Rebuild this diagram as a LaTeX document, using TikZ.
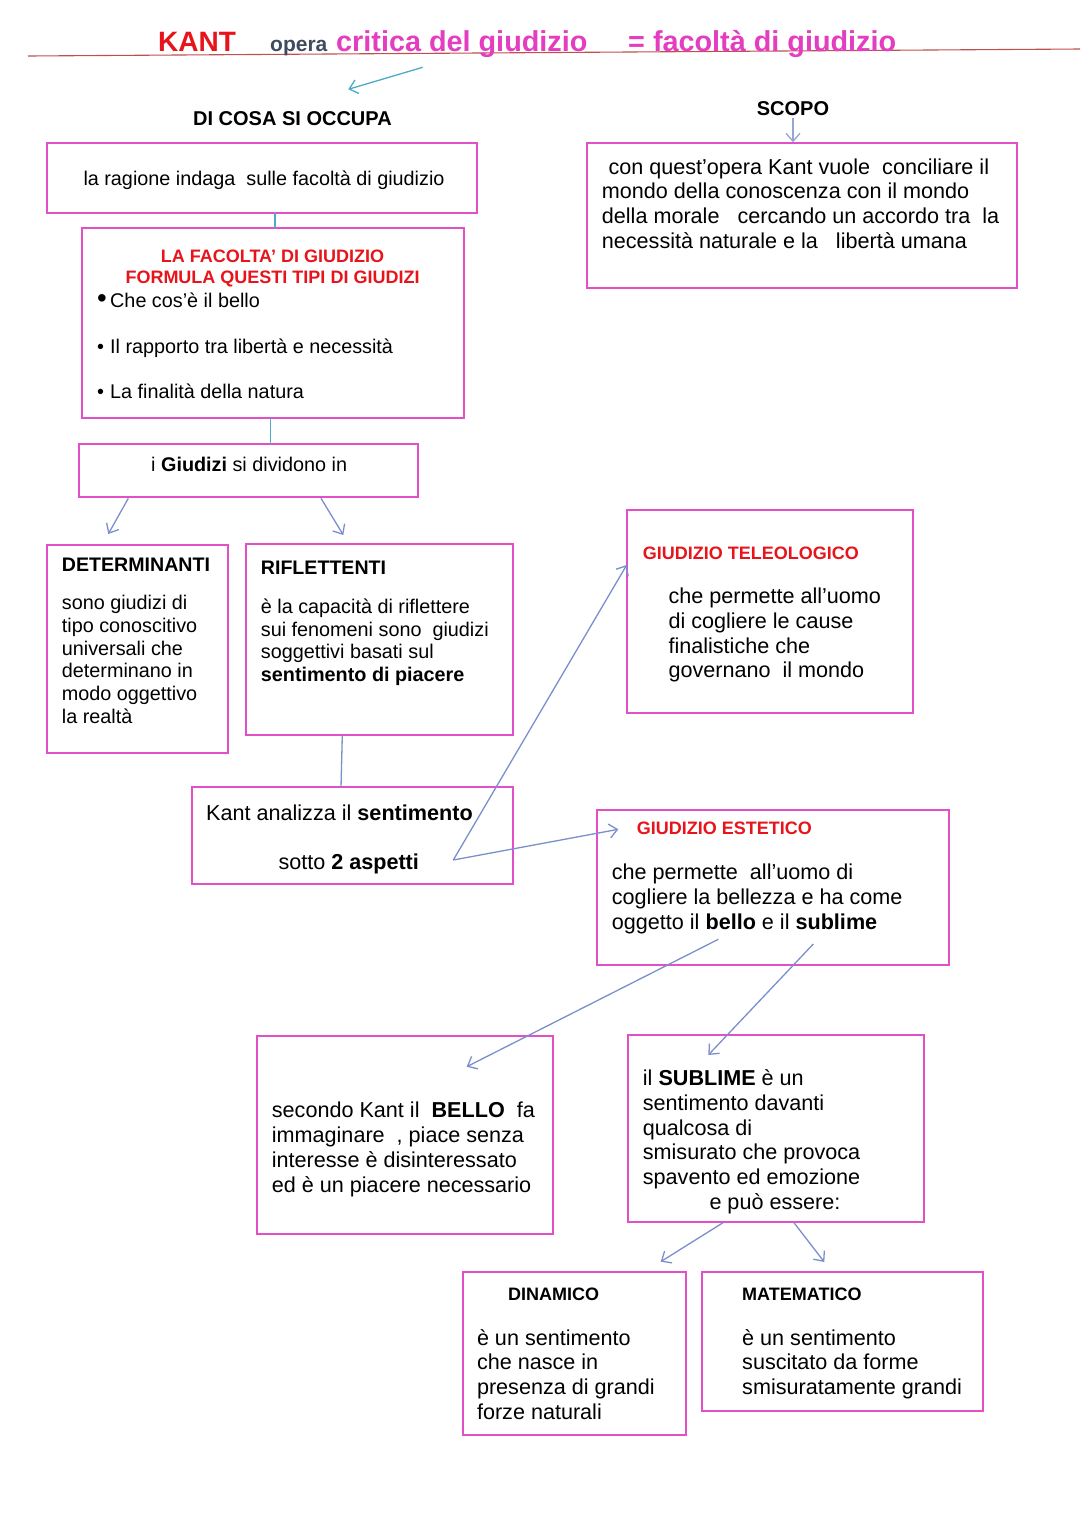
\documentclass[tikz,border=0pt]{standalone}
\usepackage{graphicx}
\usepackage{fontspec}
\setmainfont{Liberation Sans}
\usepackage{tikz}
\usetikzlibrary{arrows.meta,calc}
\definecolor{boxpink}{HTML}{E24FC6}
\definecolor{titlepink}{HTML}{E43DBF}
\definecolor{headred}{HTML}{E8141C}
\definecolor{rulered}{HTML}{C0504D}
\definecolor{operagray}{HTML}{3F4B5E}
\definecolor{cyanline}{HTML}{4BACC6}
\definecolor{slateblue}{HTML}{7B8FCC}
\newcommand{\txtbody}{\fontsize{21.6}{24.8}\selectfont}
\newcommand{\txtsmall}{\fontsize{19.8}{22.7}\selectfont}
\newcommand{\txthead}{\bfseries\fontsize{18}{20.6}\selectfont}
\tikzstyle{box} = [rectangle, draw=boxpink, line width=2pt, anchor=north west, inner sep=0pt, outer sep=0pt]
\tikzstyle{txt} = [anchor=north west, inner sep=0pt, align=left, font=\txtbody]
\tikzstyle{heading} = [anchor=base west, inner sep=0pt, font=\txthead, text=headred]
\tikzstyle{connector} = [draw=slateblue, line width=1.3pt, -{Straight Barb[length=8pt,width=14pt]}]
\tikzstyle{joint} = [draw=slateblue, line width=1.3pt]
\tikzstyle{cyanjoint} = [draw=cyanline, line width=1.3pt]

\begin{document}
\begin{tikzpicture}[x=1pt, y=-1pt]
    \useasboundingbox (0,0) rectangle (1080,1527);
    \fill[white] (0,0) rectangle (1080,1527);
    % title
    \draw[rulered, line width=1.1pt] (28,56) -- (1080,49);
    \node (kant) [heading, font=\bfseries\fontsize{28}{32}\selectfont] at (158,51) {KANT};
    \node (opera) [heading, font=\bfseries\fontsize{21}{24}\selectfont, text=operagray] at (270,51) {opera};
    \node (critica) [heading, font=\bfseries\fontsize{28.8}{34}\selectfont, text=titlepink] at (336,51) {critica del giudizio};
    \node (facolta-title) [heading, font=\bfseries\fontsize{28.8}{34}\selectfont, text=titlepink] at (628,51) {= facoltà di giudizio};
    \node (occupa) [heading, font=\bfseries\fontsize{20}{24}\selectfont, text=black] at (193,125) {DI COSA SI OCCUPA};
    \node (scopo-head) [heading, font=\bfseries\fontsize{20}{24}\selectfont, text=black] at (756.7,115) {SCOPO};
    % boxes
    \node (ragione) [box, minimum width=430pt, minimum height=69.4pt] at (46.7,143.3) {};
    \node (facolta) [box, minimum width=381.7pt, minimum height=190pt] at (82.3,228.3) {};
    \node (giudizi) [box, minimum width=339pt, minimum height=52.7pt] at (79.3,444) {};
    \node (determ) [box, minimum width=181.6pt, minimum height=208.3pt] at (46.7,545) {};
    \node (riflett) [box, minimum width=267.3pt, minimum height=190.7pt] at (246,544.3) {};
    \node (sentim) [box, minimum width=321.6pt, minimum height=97pt] at (191.7,787.3) {};
    \node (scopo) [box, minimum width=430pt, minimum height=145pt] at (586.7,143.3) {};
    \node (teleo) [box, minimum width=285.4pt, minimum height=203.3pt] at (627.3,510) {};
    \node (estetico) [box, minimum width=352pt, minimum height=155pt] at (597.3,810) {};
    \node (bello) [box, minimum width=296.6pt, minimum height=198.6pt] at (256.7,1035.7) {};
    \node (sublime) [box, minimum width=295.7pt, minimum height=186.7pt] at (628.3,1035) {};
    \node (dinamico) [box, minimum width=222.7pt, minimum height=163.3pt] at (463,1271.7) {};
    \node (matematico) [box, minimum width=281.2pt, minimum height=139.3pt] at (701.8,1271.7) {};
    % texts
    \node (ragione-text) [txt, anchor=base west, font=\txtsmall] at (83.3,185.7) {la ragione indaga\ \ sulle facoltà di giudizio};
    \node (facolta-head) [anchor=north, inner sep=0pt, align=center, font=\txthead, text=headred] at (272.5,247.8) {\strut LA FACOLTA’ DI GIUDIZIO\\FORMULA QUESTI TIPI DI GIUDIZI};
    \node (facolta-list) [txt, font=\fontsize{19.8}{45.5}\selectfont] at (97,275.6) {\strut\makebox[13pt][l]{\scalebox{1.4}{•}}Che cos’è il bello\\\makebox[13pt][l]{•}Il rapporto tra libertà e necessità\\\makebox[13pt][l]{•}La finalità della natura};
    \node (giudizi-text) [txt, anchor=base west, font=\txtsmall] at (151,471.5) {i \textbf{Giudizi} si dividono in};
    \node (determ-head) [heading, font=\bfseries\fontsize{19.6}{22}\selectfont, text=black] at (61.7,571.2) {DETERMINANTI};
    \node (determ-text) [txt, font=\txtsmall] at (61.7,593.6) {\strut sono giudizi di\\tipo conoscitivo\\universali che\\determinano in\\modo oggettivo\\la realtà};
    \node (riflett-head) [heading, font=\bfseries\fontsize{19.6}{22}\selectfont, text=black] at (260.7,574.5) {RIFLETTENTI};
    \node (riflett-text) [txt, font=\txtsmall] at (260.7,597.3) {\strut è la capacità di riflettere\\sui fenomeni sono\ \ giudizi\\soggettivi basati sul\\\textbf{sentimento di piacere}};
    \node (sentim-text) [txt, anchor=base west] at (206,820.3) {Kant analizza il \textbf{sentimento}};
    \node (aspetti-text) [txt, anchor=base west] at (278.3,869.5) {sotto \textbf{2 aspetti}};
    \node (scopo-text) [txt] at (601.7,156.6) {\strut\hspace{6.6pt}con quest’opera Kant vuole\ \ conciliare il\\mondo della conoscenza con il mondo\\della morale\ \ \ cercando un accordo tra\ \ la\\necessità naturale e la\ \ \ libertà umana};
    \node (teleo-head) [heading] at (642.7,559) {GIUDIZIO TELEOLOGICO};
    \node (teleo-text) [txt] at (668.3,586) {\strut che permette all’uomo\\di cogliere le cause\\finalistiche che\\governano\ \ il mondo};
    \node (estetico-head) [heading] at (636.7,834.5) {GIUDIZIO ESTETICO};
    \node (estetico-text) [txt] at (611.7,862.3) {\strut che permette\ \ all’uomo di\\cogliere la bellezza e ha come\\oggetto il \textbf{bello} e il \textbf{sublime}};
    \node (bello-text) [txt] at (271.7,1100.3) {\strut secondo Kant il\ \ \textbf{BELLO}\ \ fa\\immaginare\ \ , piace senza\\interesse è disinteressato\\ed è un piacere necessario};
    \node (sublime-text) [txt] at (642.7,1067.9) {\strut il \textbf{SUBLIME} è un\\sentimento davanti\\qualcosa di\\smisurato che provoca\\spavento ed emozione\\\hspace{66.6pt}e può essere:};
    \node (dinamico-head) [heading, text=black] at (508,1300) {DINAMICO};
    \node (dinamico-text) [txt] at (476.8,1327.6) {\strut è un sentimento\\che nasce in\\presenza di grandi\\forze naturali};
    \node (matematico-head) [heading, text=black] at (742,1300) {MATEMATICO};
    \node (matematico-text) [txt] at (742,1327.6) {\strut è un sentimento\\suscitato da forme\\smisuratamente grandi};
    % connectors
    \draw [connector, draw=cyanline] ($(critica.base west)+(86.7,16.3)$) -- ($(occupa.base west)+(155.3,-35.7)$);
    \draw [connector, draw=slateblue!80] ($(scopo-head.base west)+(36.3,3)$) -- ($(scopo.north west)+(206.3,-1)$);
    \draw [cyanjoint] ($(ragione.south west)+(228.3,0)$) -- ($(facolta.north west)+(192.7,0)$);
    \draw [cyanjoint] ($(facolta.south west)+(188.4,0)$) -- ($(giudizi.north west)+(191.4,0)$);
    \draw [connector] ($(giudizi.south west)+(49,1.6)$) -- ($(determ.north west)+(61.6,-11)$);
    \draw [connector] ($(giudizi.south west)+(241.7,1.6)$) -- ($(riflett.north west)+(97.3,-9.3)$);
    \draw [joint] ($(riflett.south west)+(96.3,0)$) -- ($(sentim.north west)+(149.3,0)$);
    \coordinate (sentim-out) at ($(sentim.south east)+(-60,-24.3)$);
    \draw [connector] (sentim-out) -- ($(teleo.north west)+(-0.6,55)$);
    \draw [connector] (sentim-out) -- ($(estetico.north west)+(21,19.3)$);
    \draw [connector] ($(estetico.south west)+(121,-25.7)$) -- ($(bello.north west)+(210,31)$);
    \draw [connector] ($(estetico.south west)+(216,-21)$) -- ($(sublime.north west)+(80,20)$);
    \draw [connector] ($(sublime.south west)+(94.7,1)$) -- ($(dinamico.north east)+(-25,-10)$);
    \draw [connector] ($(sublime.south west)+(165.3,0.5)$) -- ($(matematico.north west)+(122.5,-9.7)$);
\end{tikzpicture}
\end{document}
